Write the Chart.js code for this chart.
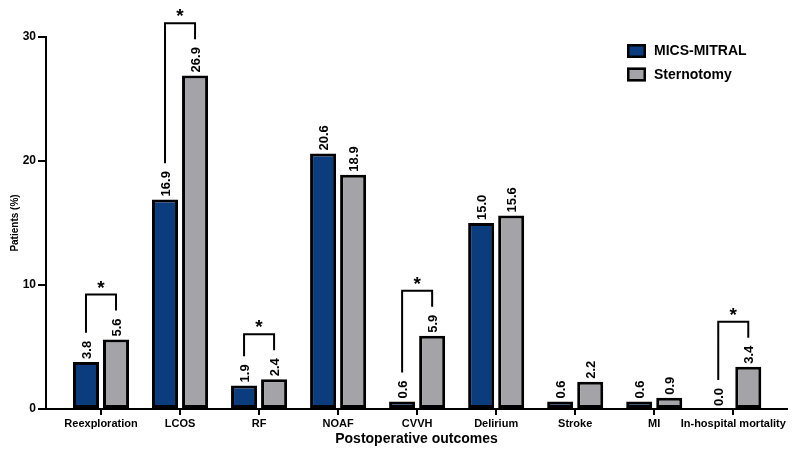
<!DOCTYPE html>
<html>
<head>
<meta charset="utf-8">
<script src="https://cdn.jsdelivr.net/npm/chart.js@4.4.1/dist/chart.umd.min.js"></script>
<style>
  html, body { margin: 0; padding: 0; background: #fff; }
  #wrap { width: 794px; height: 458px; }
</style>
</head>
<body>
<div id="wrap"><canvas id="c" width="794" height="458"></canvas></div>
<script>
const categories = ['Reexploration', 'LCOS', 'RF', 'NOAF', 'CVVH', 'Delirium', 'Stroke', 'MI', 'In-hospital mortality'];
const micsMitral = [3.8, 16.9, 1.9, 20.6, 0.6, 15.0, 0.6, 0.6, 0.0];
const sternotomy = [5.6, 26.9, 2.4, 18.9, 5.9, 15.6, 2.2, 0.9, 3.4];
const yTicks = [0, 10, 20, 30];
const significant = ['Reexploration', 'LCOS', 'RF', 'CVVH', 'In-hospital mortality'];
const seriesNames = ['MICS-MITRAL', 'Sternotomy'];
const seriesColors = ['#0b3c7e', '#a3a3a8'];

const FONT = "'Liberation Sans', Arial, Helvetica, sans-serif";

const labelFont = 'bold 13px ' + FONT;

function labelTop(ctx, bar, value) {
  ctx.save();
  ctx.font = labelFont;
  const w = ctx.measureText(value.toFixed(1)).width;
  ctx.restore();
  return bar.y - 3 - w;
}

const annotate = {
  id: 'annotate',
  afterDatasetsDraw(chart) {
    const ctx = chart.ctx;
    const metas = [chart.getDatasetMeta(0), chart.getDatasetMeta(1)];
    const data = [micsMitral, sternotomy];
    // value labels
    ctx.save();
    ctx.fillStyle = '#000';
    ctx.font = labelFont;
    ctx.textAlign = 'left';
    ctx.textBaseline = 'middle';
    metas.forEach((m, d) => {
      m.data.forEach((bar, i) => {
        ctx.save();
        ctx.translate(bar.x + 1, bar.y - 3);
        ctx.rotate(-Math.PI / 2);
        ctx.fillText(data[d][i].toFixed(1), 0, 0);
        ctx.restore();
      });
    });
    ctx.restore();
    // significance brackets
    ctx.save();
    ctx.strokeStyle = '#000';
    ctx.lineWidth = 2;
    ctx.lineCap = 'butt';
    significant.forEach(name => {
      const i = categories.indexOf(name);
      const b0 = metas[0].data[i], b1 = metas[1].data[i];
      const t0 = labelTop(ctx, b0, micsMitral[i]);
      const t1 = labelTop(ctx, b1, sternotomy[i]);
      const top = Math.min(t0, t1) - 24;
      ctx.beginPath();
      ctx.moveTo(b0.x, t0 - 8);
      ctx.lineTo(b0.x, top);
      ctx.lineTo(b1.x, top);
      ctx.lineTo(b1.x, t1 - 8);
      ctx.stroke();
      ctx.fillStyle = '#000';
      ctx.font = 'bold 19px ' + FONT;
      ctx.textAlign = 'center';
      ctx.textBaseline = 'middle';
      ctx.fillText('*', (b0.x + b1.x) / 2, top - 6);
    });
    ctx.restore();
    // legend
    const ca = chart.chartArea;
    ctx.save();
    const lx = ca.right - 160, ly = 44;
    seriesNames.forEach((n, k) => {
      const y = ly + k * 23.5;
      ctx.fillStyle = seriesColors[k];
      ctx.fillRect(lx, y, 19, 14);
      ctx.strokeStyle = '#000';
      ctx.lineWidth = 2.5;
      ctx.strokeRect(lx + 1.25, y + 1.25, 16.5, 11.5);
      ctx.fillStyle = '#000';
      ctx.font = 'bold 14px ' + FONT;
      ctx.textAlign = 'left';
      ctx.textBaseline = 'middle';
      ctx.fillText(n, lx + 27, y + 7.5);
    });
    ctx.restore();
  }
};

const mk = arr => arr.map((v, i) => ({ x: i, y: v }));

new Chart(document.getElementById('c'), {
  type: 'bar',
  data: {
    datasets: [
      { label: seriesNames[0], data: mk(micsMitral), backgroundColor: seriesColors[0], borderColor: '#000', borderWidth: 3, borderSkipped: false },
      { label: seriesNames[1], data: mk(sternotomy), backgroundColor: seriesColors[1], borderColor: '#000', borderWidth: 3, borderSkipped: false }
    ]
  },
  options: {
    responsive: false,
    animation: false,
    devicePixelRatio: 1,
    categoryPercentage: 0.76,
    barPercentage: 0.867,
    layout: { padding: { top: 37, right: 7, bottom: 0, left: 0 } },
    plugins: { legend: { display: false }, tooltip: { enabled: false } },
    scales: {
      x: {
        type: 'linear',
        offset: false,
        min: -0.696,
        max: 8.68,
        afterFit(s) { s.height = 49; },
        afterBuildTicks(s) { s.ticks = categories.map((c, i) => ({ value: i })); },
        ticks: {
          autoSkip: false, maxRotation: 0, minRotation: 0,
          color: '#000', padding: 2,
          font: { family: FONT, size: 11, weight: 'bold' },
          callback: v => categories[v]
        },
        grid: { offset: false, drawOnChartArea: false, drawTicks: true, tickLength: 6, color: '#000', lineWidth: 2 },
        border: { display: true, color: '#000', width: 2 },
        title: { display: true, text: 'Postoperative outcomes', color: '#000', font: { family: FONT, size: 14, weight: 'bold' }, padding: { top: 0, bottom: 10 } }
      },
      y: {
        min: 0, max: 30,
        afterFit(s) { s.width = 46; },
        afterBuildTicks(s) { s.ticks = yTicks.map(v => ({ value: v })); },
        ticks: { color: '#000', padding: 2, font: { family: FONT, size: 12, weight: 'bold' } },
        grid: { drawOnChartArea: false, drawTicks: true, tickLength: 8, color: '#000', lineWidth: 2 },
        border: { display: true, color: '#000', width: 2 },
        title: { display: true, text: 'Patients (%)', color: '#000', font: { family: FONT, size: 10, weight: 'bold' }, padding: { top: 9, bottom: 0 } }
      }
    }
  },
  plugins: [annotate]
});
</script>
</body>
</html>
